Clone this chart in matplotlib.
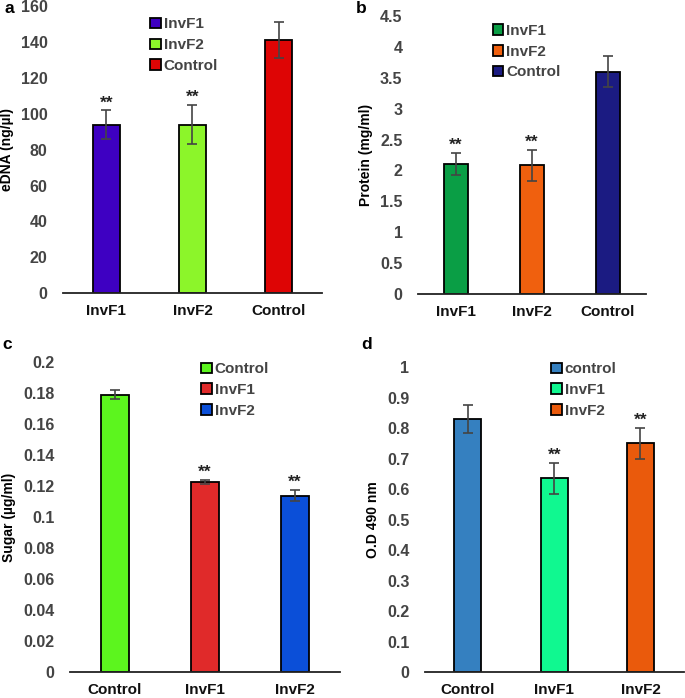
import matplotlib.pyplot as plt
from matplotlib.patches import Patch

plt.rcParams['font.family'] = ['Liberation Sans', 'DejaVu Sans']

# panel a - eDNA
a_cats = ['InvF1', 'InvF2', 'Control']
a_vals = [94, 94, 141]
a_errs = [8, 11, 10]
a_colors = ['#3E00C2', '#8CF52A', '#DE0505']
a_ticks = [0, 20, 40, 60, 80, 100, 120, 140, 160]

# panel b - protein
b_cats = ['InvF1', 'InvF2', 'Control']
b_vals = [2.1, 2.08, 3.6]
b_errs = [0.18, 0.25, 0.25]
b_colors = ['#0A9E45', '#F0600E', '#1B1B82']
b_ticks = [0, 0.5, 1, 1.5, 2, 2.5, 3, 3.5, 4, 4.5]

# panel c - sugar
c_cats = ['Control', 'InvF1', 'InvF2']
c_legend = ['Control', 'InvF1', 'InvF2']
c_vals = [0.179, 0.123, 0.114]
c_errs = [0.003, 0.0013, 0.0035]
c_colors = ['#5CF51E', '#E02A2A', '#0B4FD8']
c_ticks = [0, 0.02, 0.04, 0.06, 0.08, 0.1, 0.12, 0.14, 0.16, 0.18, 0.2]

# panel d - O.D 490
d_cats = ['Control', 'InvF1', 'InvF2']
d_legend = ['control', 'InvF1', 'InvF2']
d_vals = [0.83, 0.635, 0.75]
d_errs = [0.045, 0.05, 0.052]
d_colors = ['#3580C0', '#10F890', '#EA5A0C']
d_ticks = [0, 0.1, 0.2, 0.3, 0.4, 0.5, 0.6, 0.7, 0.8, 0.9, 1]

GRAY = '#444444'


def draw_panel(fig, rect, cats, vals, errs, colors, ticks, ylabel, letter,
               stars, legend_labels, legend_anchor, letter_pos, xfont=11):
    ax = fig.add_axes(rect)
    x = range(len(cats))
    ax.bar(x, vals, width=0.31, color=colors, edgecolor='black', linewidth=1.3,
           yerr=errs, error_kw=dict(ecolor=GRAY, elinewidth=1.2, capsize=3.5, capthick=1.2))
    ax.set_xlim(-0.5, len(cats) - 0.5)
    ax.set_ylim(ticks[0], ticks[-1])
    ax.set_yticks(ticks)
    ax.set_yticklabels([f'{t:g}' for t in ticks], fontsize=11.5, fontweight='bold', color=GRAY)
    ax.set_xticks(list(x))
    ax.set_xticklabels(cats, fontsize=xfont, fontweight='bold', color='#111111')
    ax.tick_params(axis='both', length=0)
    ax.tick_params(axis='x', pad=8)
    ax.tick_params(axis='y', pad=11)
    for s in ['top', 'right', 'left']:
        ax.spines[s].set_visible(False)
    ax.spines['bottom'].set_linewidth(1.3)
    ax.spines['bottom'].set_color('#222222')
    ax.set_ylabel(ylabel, fontsize=10, fontweight='bold', labelpad=5)
    for i in stars:
        ax.text(i, vals[i] + errs[i], '**', ha='center', va='bottom',
                fontsize=12.5, fontweight='bold', color='#222222')
    handles = [Patch(facecolor=c, edgecolor='black', linewidth=1.3) for c in colors]
    ax.legend(handles, legend_labels, loc='upper left', bbox_to_anchor=legend_anchor,
              bbox_transform=fig.transFigure, frameon=False, handlelength=0.7,
              handleheight=0.7, handletextpad=0.2, labelspacing=0.45,
              prop=dict(size=11, weight='bold'), labelcolor=GRAY, borderpad=0)
    fig.text(letter_pos[0], letter_pos[1], letter, fontsize=12.5, fontweight='bold',
             ha='left', va='top')
    return ax


fig = plt.figure(figsize=(6.85, 6.98), dpi=100)

draw_panel(fig, [0.092, 0.580, 0.378, 0.411], a_cats, a_vals, a_errs, a_colors,
           a_ticks, 'eDNA (ng/µl)', 'a', [0, 1], a_cats, (0.208, 0.986), (0.006, 0.998))
draw_panel(fig, [0.610, 0.579, 0.333, 0.398], b_cats, b_vals, b_errs, b_colors,
           b_ticks, 'Protein (mg/ml)', 'b', [0, 1], b_cats, (0.708, 0.977), (0.520, 0.998))
draw_panel(fig, [0.102, 0.037, 0.394, 0.444], c_cats, c_vals, c_errs, c_colors,
           c_ticks, 'Sugar (µg/ml)', 'c', [1, 2], c_legend, (0.282, 0.492), (0.004, 0.517))
draw_panel(fig, [0.620, 0.037, 0.378, 0.437], d_cats, d_vals, d_errs, d_colors,
           d_ticks, 'O.D 490 nm', 'd', [1, 2], d_legend, (0.793, 0.492), (0.528, 0.517))

fig.savefig('out.png', dpi=100)
